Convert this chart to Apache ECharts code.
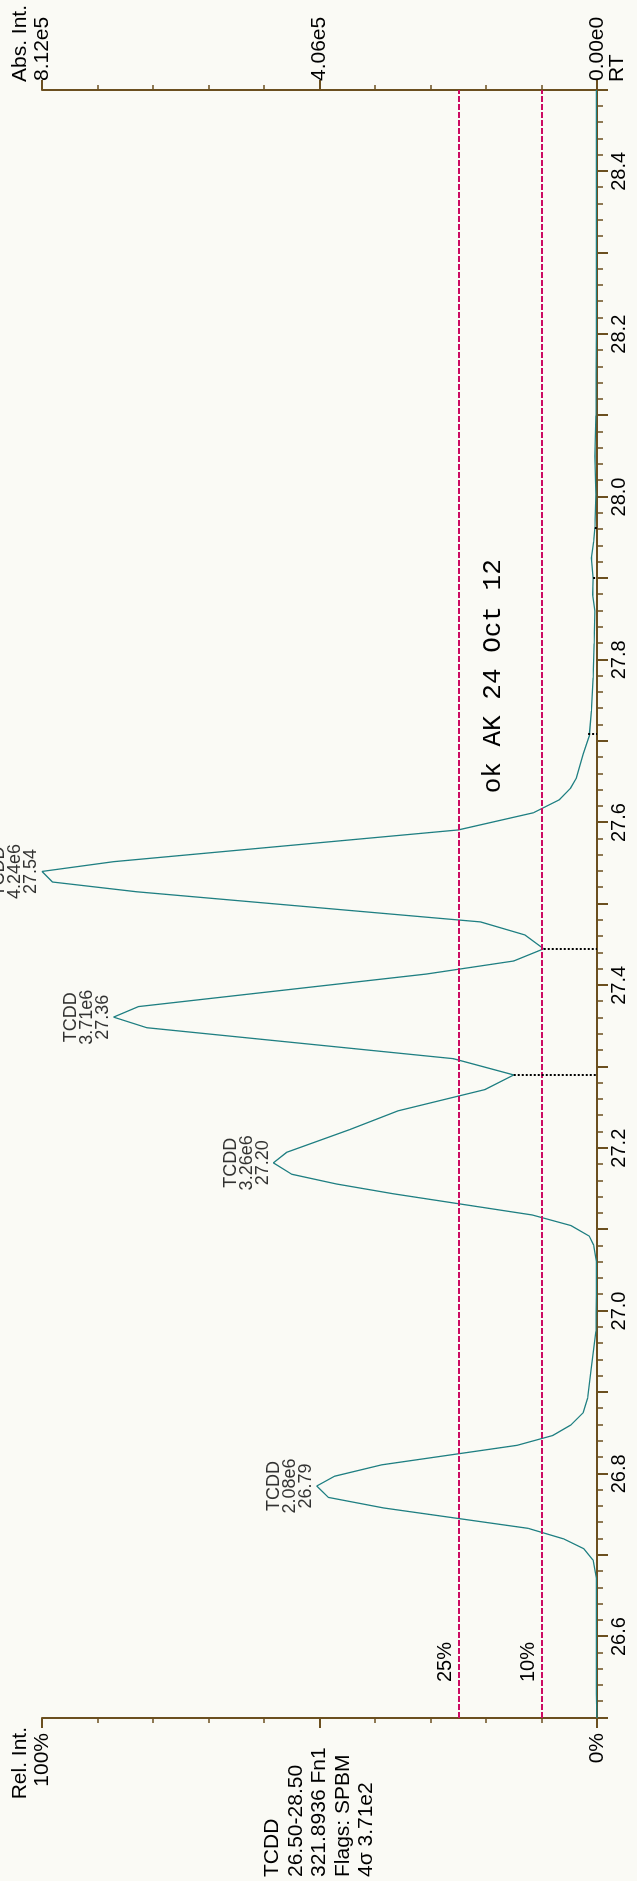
<!DOCTYPE html>
<html>
<head>
<meta charset="utf-8">
<script src="https://cdn.jsdelivr.net/npm/echarts@6.0.0/dist/echarts.min.js"></script>
<style>
html, body { margin: 0; padding: 0; width: 637px; height: 1881px; overflow: hidden; background: #fafaf5; }
#chart { position: absolute; left: 0; top: 0; width: 1881px; height: 637px;
  transform-origin: 0 0; transform: translateY(1881px) rotate(-90deg); }
</style>
</head>
<body>
<div id="chart"></div>
<script>
// ---- data (retention time in min, relative intensity in %) ----
const rtValues = [
  26.500, 26.530, 26.600, 26.672, 26.694, 26.708, 26.720, 26.733, 26.758, 26.771,
  26.785, 26.797, 26.811, 26.835, 26.847, 26.860, 26.875, 26.893, 26.926, 26.975,
  27.020, 27.061, 27.081, 27.092, 27.105, 27.118, 27.144, 27.156, 27.168, 27.182,
  27.195, 27.223, 27.246, 27.272, 27.290, 27.310, 27.348, 27.361, 27.374, 27.414,
  27.430, 27.445, 27.462, 27.478, 27.515, 27.527, 27.540, 27.552, 27.591, 27.612,
  27.628, 27.642, 27.655, 27.684, 27.706, 27.737, 27.778, 27.820, 27.860, 27.880,
  27.900, 27.925, 27.945, 27.962, 28.003, 28.050, 28.100, 28.200, 28.300, 28.400,
  28.500
];
const relIntensity = [
  0.0, 0.1, 0.1, 0.1, 0.7, 2.4, 6.0, 12.4, 38.4, 48.4,
  50.5, 47.3, 38.8, 14.4, 8.0, 4.7, 2.5, 1.7, 1.1, 0.2,
  0.1, 0.1, 0.6, 1.4, 4.7, 11.7, 36.7, 46.9, 55.0, 58.3,
  55.9, 44.5, 35.8, 20.2, 15.0, 25.9, 81.1, 87.1, 82.6, 30.7,
  15.0, 9.6, 13.0, 21.0, 82.9, 98.1, 100.0, 87.1, 25.0, 11.5,
  6.8, 4.8, 3.7, 2.5, 1.4, 1.0, 0.7, 0.5, 0.4, 0.8,
  0.7, 1.0, 0.6, 0.4, 0.2, 0.4, 0.2, 0.1, 0.1, 0.1,
  0.1
];
const peakApexRT   = [26.785, 27.182, 27.361, 27.540];
const peakApexPct  = [50.5, 58.3, 87.1, 100.0];
const peakName     = ['TCDD', 'TCDD', 'TCDD', 'TCDD'];
const peakArea     = ['2.08e6', '3.26e6', '3.71e6', '4.24e6'];
const peakRTLabel  = ['26.79', '27.20', '27.36', '27.54'];
const dropRT       = [27.290, 27.445, 27.708, 27.900, 27.962];
const dropPct      = [15.0, 9.6, 1.6, 0.7, 0.4];
const thresholdPct = [25, 10];
const thresholdLabels = ['25%', '10%'];
const absIntTicks  = { 0: '0.00e0', 50: '4.06e5', 100: '8.12e5' };
const relIntTicks  = { 0: '0%', 50: '', 100: '100%' };
const infoLines    = ['TCDD', '26.50-28.50', '321.8936 Fn1', 'Flags: SPBM', '4\u03c3 3.71e2'];
const stampText    = 'ok AK 24 Oct 12';

// ---- styling ----
const FONT = '"Liberation Sans", Arial, Helvetica, sans-serif';
const MONO = '"Courier New", "Liberation Mono", monospace';
const AXIS = '#6b4f1f';
const TEAL = '#1f7f82';
const PINK = '#cc0a62';
const BG = '#fafaf5';

const chart = echarts.init(document.getElementById('chart'), null, { renderer: 'canvas' });

const yAxisCommon = {
  type: 'value', min: 0, max: 100, interval: 50,
  axisLine: { show: true, onZero: false, lineStyle: { color: AXIS, width: 2 } },
  axisTick: { show: true, length: 10, lineStyle: { color: AXIS, width: 2 } },
  minorTick: { show: true, splitNumber: 5, length: 5, lineStyle: { color: AXIS, width: 1.5 } },
  splitLine: { show: false }, minorSplitLine: { show: false }
};

const option = {
  backgroundColor: BG,
  animation: false,
  grid: { left: 163, right: 90, top: 42, bottom: 40, containLabel: false, outerBoundsMode: 'none' },
  xAxis: {
    type: 'value', min: 26.5, max: 28.5, interval: 0.1, position: 'bottom',
    axisLine: { show: true, onZero: false, lineStyle: { color: AXIS, width: 2 } },
    axisTick: { show: true, length: 11, lineStyle: { color: AXIS, width: 2 } },
    minorTick: { show: true, splitNumber: 5, length: 6, lineStyle: { color: AXIS, width: 1.5 } },
    splitLine: { show: false }, minorSplitLine: { show: false },
    axisLabel: {
      margin: 12, fontSize: 20, color: '#000', fontFamily: FONT,
      formatter: function (v) {
        const k = Math.round(v * 10);
        return (k % 2 === 0 && k > 265 && k < 285) ? (k / 10).toFixed(1) : '';
      }
    }
  },
  yAxis: [
    Object.assign({}, yAxisCommon, {
      position: 'right',
      axisLabel: { margin: 9, fontSize: 21, color: '#000', fontFamily: FONT,
        formatter: function (v) { return absIntTicks[Math.round(v)] || ''; } }
    }),
    Object.assign({}, yAxisCommon, {
      position: 'left',
      axisLabel: { margin: 15, fontSize: 21, color: '#000', fontFamily: FONT,
        formatter: function (v) { return relIntTicks[Math.round(v)] || ''; } }
    })
  ],
  series: [
    {
      type: 'line', name: 'TCDD', xAxisIndex: 0, yAxisIndex: 0,
      data: rtValues.map((t, i) => [t, relIntensity[i]]),
      symbol: 'none', smooth: false, z: 4,
      lineStyle: { color: TEAL, width: 1.3 },
      markLine: {
        silent: true, animation: false, symbol: ['none', 'none'],
        lineStyle: { color: PINK, type: [6, 2], width: 2 },
        label: { show: true, position: 'insideStartTop', distance: [36, 3],
          color: '#000', fontSize: 20, fontFamily: FONT },
        data: thresholdPct.map((v, i) => ({ yAxis: v, label: { formatter: thresholdLabels[i] } }))
      }
    },
    {
      type: 'line', name: 'drops', xAxisIndex: 0, yAxisIndex: 0, data: [],
      symbol: 'none', z: 3,
      markLine: {
        silent: true, animation: false, symbol: ['none', 'none'],
        lineStyle: { color: '#000', type: [2, 2], width: 2 },
        label: { show: false },
        data: dropRT.map((t, i) => [{ coord: [t, dropPct[i]] }, { coord: [t, 0] }])
      }
    },
    {
      type: 'scatter', name: 'peaks', xAxisIndex: 0, yAxisIndex: 0,
      data: peakApexRT.map((t, i) => [t, peakApexPct[i]]),
      symbol: 'circle', symbolSize: 1, itemStyle: { color: 'rgba(0,0,0,0)' }, silent: true, z: 5,
      label: {
        show: true, position: 'top', distance: 2, align: 'center',
        fontSize: 18, lineHeight: 16, color: '#000', fontFamily: FONT,
        formatter: function (p) {
          const i = p.dataIndex;
          return peakName[i] + '\n' + peakArea[i] + '\n' + peakRTLabel[i];
        }
      },
      labelLayout: { hideOverlap: false }
    }
  ]
};
chart.setOption(option);

// ---- annotation texts positioned through the chart's scales ----
const stampPos = chart.convertToPixel({ xAxisIndex: 0, yAxisIndex: 0 }, [27.636, 18.7]);
const grid = chart.getModel().getComponent('grid').coordinateSystem.getRect();
const top100 = chart.convertToPixel({ yAxisIndex: 0 }, 100);
const zero = chart.convertToPixel({ yAxisIndex: 0 }, 0);
const mid50 = chart.convertToPixel({ yAxisIndex: 0 }, 50);

function txt(x, y, text, font, align, valign, extra) {
  return {
    type: 'text', x: x, y: y, silent: true,
    style: Object.assign({ text: text, font: font, fill: '#000',
      align: align, textAlign: align, verticalAlign: valign, textVerticalAlign: valign }, extra || {})
  };
}
chart.setOption({
  graphic: [
    txt(grid.x - 9, top100 - 22, 'Rel. Int.', '21px ' + FONT, 'right', 'middle'),
    txt(grid.x + grid.width + 8, top100 - 22, 'Abs. Int.', '21px ' + FONT, 'left', 'middle'),
    txt(grid.x + grid.width + 8, zero + 20, 'RT', '21px ' + FONT, 'left', 'middle'),
    txt(4, mid50 - 59, infoLines.join('\n'), '21px ' + FONT, 'left', 'top', { lineHeight: 23.5 }),
    txt(stampPos[0], stampPos[1], stampText, '26px ' + MONO, 'left', 'middle')
  ]
});
</script>
</body>
</html>
